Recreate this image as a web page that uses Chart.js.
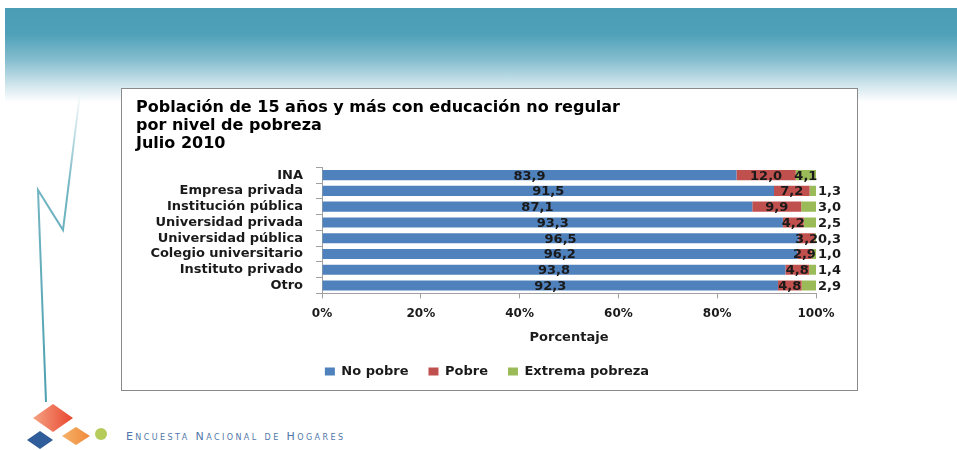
<!DOCTYPE html>
<html>
<head>
<meta charset="utf-8">
<script src="https://cdn.jsdelivr.net/npm/chart.js@4.4.0/dist/chart.umd.min.js"></script>
<style>
html, body { margin: 0; padding: 0; background: #fff; width: 957px; height: 450px; overflow: hidden; position: relative; }
#band { position: absolute; left: 5px; top: 8px; width: 952px; height: 94px;
  background: linear-gradient(to bottom, #4a9db5 0%, #4fa1b9 28%, #84bdce 55%, #cbe3eb 80%, #ffffff 100%); }
#deco { position: absolute; left: 0; top: 0; }
#box { position: absolute; left: 121px; top: 88px; width: 735px; height: 301px; border: 1px solid #8a8a8a; background: #fff; }
canvas { display: block; }
</style>
</head>
<body>
<div id="band"></div>
<svg id="deco" width="957" height="450">
  <defs>
    <linearGradient id="lineGrad" x1="0" y1="93" x2="0" y2="402" gradientUnits="userSpaceOnUse">
      <stop offset="0" stop-color="#5aa8b8" stop-opacity="0"/>
      <stop offset="0.3" stop-color="#5aa8b8" stop-opacity="0.85"/>
      <stop offset="1" stop-color="#4a9fae"/>
    </linearGradient>
    <linearGradient id="redGrad" x1="0" y1="0" x2="1" y2="0">
      <stop offset="0" stop-color="#f5a383"/>
      <stop offset="1" stop-color="#e8452e"/>
    </linearGradient>
    <linearGradient id="orangeGrad" x1="0" y1="0" x2="1" y2="0">
      <stop offset="0" stop-color="#f6b168"/>
      <stop offset="1" stop-color="#ef8a3a"/>
    </linearGradient>
  </defs>
  <polyline points="80,93 63,230 38,190 46,402" fill="none" stroke="url(#lineGrad)" stroke-width="2"/>
  <polygon points="33,418 53,404 73,418 53,432" fill="url(#redGrad)"/>
  <polygon points="27,440 40,431 53,440 40,449" fill="#2f5d9a"/>
  <polygon points="62,436 76,427 90,436 76,445" fill="url(#orangeGrad)"/>
  <circle cx="101" cy="434" r="6" fill="#b6cc5a"/>
  <text x="126" y="440" font-family="DejaVu Sans" font-size="11" fill="#4f77a8"
        style="font-variant: small-caps" textLength="217" lengthAdjust="spacing">Encuesta Nacional de Hogares</text>
</svg>
<div id="box"><canvas id="chart" width="735" height="301"></canvas></div>

<script>
// Data
const categories = ['INA', 'Empresa privada', 'Institución pública', 'Universidad privada',
                    'Universidad pública', 'Colegio universitario', 'Instituto privado', 'Otro'];
const noPobre  = [83.9, 91.5, 87.1, 93.3, 96.5, 96.2, 93.8, 92.3];
const pobre    = [12.0,  7.2,  9.9,  4.2,  3.2,  2.9,  4.8,  4.8];
const extrema  = [ 4.1,  1.3,  3.0,  2.5,  0.3,  1.0,  1.4,  2.9];
const seriesNames = ['No pobre', 'Pobre', 'Extrema pobreza'];
const xTicks = [0, 20, 40, 60, 80, 100];

const FONT = '"DejaVu Sans", sans-serif';
const TEXT = '#1a1a1a';
const AXIS = '#a0a0a0';

// Draw the value of every segment like the Excel labels
const valueLabels = {
    id: 'valueLabels',
    afterDatasetsDraw(chart) {
        const ctx = chart.ctx;
        ctx.save();
        ctx.font = 'bold 13px ' + FONT;
        ctx.fillStyle = TEXT;
        ctx.textBaseline = 'middle';
        chart.data.datasets.forEach((ds, di) => {
            chart.getDatasetMeta(di).data.forEach((bar, i) => {
                const v = ds.data[i];
                const txt = v.toFixed(1).replace('.', ',');
                const left = Math.min(bar.x, bar.base);
                const right = Math.max(bar.x, bar.base);
                if (di === 2 && v < 4) {
                    ctx.textAlign = 'left';
                    ctx.fillText(txt, chart.chartArea.right + 2, bar.y + 1);
                } else {
                    ctx.textAlign = 'center';
                    ctx.fillText(txt, (left + right) / 2, bar.y + 1);
                }
            });
        });
        ctx.restore();
    }
};

// Shift the legend a little to the right, as in the picture
const legendShift = {
    id: 'legendShift',
    afterLayout(chart) {
        chart.legend.left += 11;
        chart.legend.right += 11;
    }
};

new Chart(document.getElementById('chart'), {
    type: 'bar',
    data: {
        labels: categories,
        datasets: [
            { label: seriesNames[0], data: noPobre, backgroundColor: '#4f81bd' },
            { label: seriesNames[1], data: pobre, backgroundColor: '#c0504d' },
            { label: seriesNames[2], data: extrema, backgroundColor: '#9bbb59' }
        ]
    },
    options: {
        indexAxis: 'y',
        responsive: false,
        animation: false,
        datasets: { bar: { barPercentage: 0.64, categoryPercentage: 1 } },
        layout: { padding: { left: 14, right: 41, top: 0, bottom: 2 } },
        scales: {
            x: {
                stacked: true,
                min: 0,
                max: 100,
                afterBuildTicks: s => { s.ticks = xTicks.map(v => ({ value: v })); },
                ticks: { callback: v => v + '%', color: TEXT, padding: 8, font: { family: FONT, size: 12, weight: 'bold' } },
                grid: { drawOnChartArea: false, tickLength: 5, color: AXIS },
                border: { color: AXIS },
                title: { display: true, text: 'Porcentaje', color: TEXT, padding: { top: 0.6, bottom: 0 },
                         font: { family: FONT, size: 13, weight: 'bold' } }
            },
            y: {
                stacked: true,
                afterFit: s => { s.width = 186; },
                ticks: { autoSkip: false, color: TEXT, padding: 13, font: { family: FONT, size: 13, weight: 'bold' } },
                grid: { offset: true, drawOnChartArea: false, tickLength: 6, color: AXIS },
                border: { color: AXIS }
            }
        },
        plugins: {
            title: {
                display: true,
                align: 'start',
                text: ['Población de 15 años y más con educación no regular', 'por nivel de pobreza', 'Julio 2010'],
                color: '#000',
                font: { family: FONT, size: 16, weight: 'bold', lineHeight: 1.13 },
                padding: { top: 10, bottom: 14 }
            },
            legend: {
                position: 'bottom',
                labels: { boxWidth: 10, boxHeight: 8, padding: 20, color: TEXT,
                          font: { family: FONT, size: 13, weight: 'bold' } }
            },
            tooltip: { enabled: false }
        }
    },
    plugins: [valueLabels, legendShift]
});
</script>
</body>
</html>
